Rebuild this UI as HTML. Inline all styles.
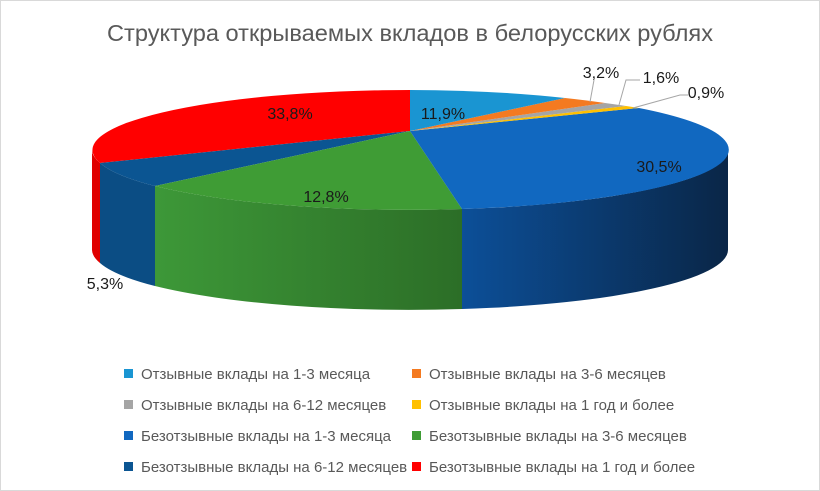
<!DOCTYPE html>
<html><head><meta charset="utf-8"><style>
body{margin:0;background:#fff}
svg{display:block;font-family:"Liberation Sans",sans-serif}
</style></head><body>
<svg width="820" height="491" viewBox="0 0 820 491" xmlns="http://www.w3.org/2000/svg">
<defs>
<linearGradient id="gb" x1="0" x2="1"><stop offset="0" stop-color="#0c4f98"/><stop offset="1" stop-color="#0a2647"/></linearGradient>
<linearGradient id="gg" x1="0" x2="1"><stop offset="0" stop-color="#3d9838"/><stop offset="1" stop-color="#2c6e27"/></linearGradient>
</defs>
<rect x="0.5" y="0.5" width="819" height="490" fill="#fff" stroke="#d9d9d9"/>
<text x="410" y="41" font-size="23" fill="#595959" text-anchor="middle" textLength="606" lengthAdjust="spacingAndGlyphs">Структура открываемых вкладов в белорусских рублях</text>
<path d="M92,150 A318,60 0 0 0 100,163 L100,263 A318,60 0 0 1 92,250 Z" fill="#e00000"/>
<path d="M100,163 A318,60 0 0 0 155,186 L155,286 A318,60 0 0 1 100,263 Z" fill="#0b4d84"/>
<path d="M155,186 A318,60 0 0 0 462,209 L462,309 A318,60 0 0 1 155,286 Z" fill="url(#gg)"/>
<path d="M462,209 A318,60 0 0 0 728,150 L728,250 A318,60 0 0 1 462,309 Z" fill="url(#gb)"/>
<path d="M410,131 L410,90 A318,60 0 0 0 100,163 Z" fill="#ff0000"/>
<path d="M410,131 L100,163 A318,60 0 0 0 155,186 Z" fill="#0b5592"/>
<path d="M410,131 L155,186 A318,60 0 0 0 462,209 Z" fill="#3f9c35"/>
<path d="M410,131 L462,209 A318,60 0 0 0 639,108 Z" fill="#1168c0"/>
<path d="M410,131 L639,108 A318,60 0 0 0 626,106 Z" fill="#ffc000"/>
<path d="M410,131 L626,106 A318,60 0 0 0 605,103 Z" fill="#a5a5a5"/>
<path d="M410,131 L605,103 A318,60 0 0 0 565,98 Z" fill="#f47a20"/>
<path d="M410,131 L565,98 A318,60 0 0 0 410,90 Z" fill="#1a95d2"/>
<g stroke="#a6a6a6" fill="none" stroke-width="1">
<path d="M590,102 L594,80"/>
<path d="M619,105 L626,80 L640,80"/>
<path d="M633,108 L680,95 L688,95"/>
</g>
<g font-size="16" fill="#1a1a1a">
<text x="290" y="119" text-anchor="middle">33,8%</text>
<text x="443" y="119" text-anchor="middle">11,9%</text>
<text x="601" y="78" text-anchor="middle">3,2%</text>
<text x="661" y="83" text-anchor="middle">1,6%</text>
<text x="706" y="98" text-anchor="middle">0,9%</text>
<text x="659" y="172" text-anchor="middle">30,5%</text>
<text x="326" y="202" text-anchor="middle">12,8%</text>
<text x="105" y="289" text-anchor="middle">5,3%</text>
</g>
<g font-size="15" fill="#595959">
<rect x="124" y="369" width="9" height="9" fill="#1a95d2"/><text x="141" y="379">Отзывные вклады на 1-3 месяца</text>
<rect x="412" y="369" width="9" height="9" fill="#f47a20"/><text x="429" y="379">Отзывные вклады на 3-6 месяцев</text>
<rect x="124" y="400" width="9" height="9" fill="#a5a5a5"/><text x="141" y="410">Отзывные вклады на 6-12 месяцев</text>
<rect x="412" y="400" width="9" height="9" fill="#ffc000"/><text x="429" y="410">Отзывные вклады на 1 год и более</text>
<rect x="124" y="431" width="9" height="9" fill="#1168c0"/><text x="141" y="441">Безотзывные вклады на 1-3 месяца</text>
<rect x="412" y="431" width="9" height="9" fill="#3f9c35"/><text x="429" y="441">Безотзывные вклады на 3-6 месяцев</text>
<rect x="124" y="462" width="9" height="9" fill="#0b5592"/><text x="141" y="472">Безотзывные вклады на 6-12 месяцев</text>
<rect x="412" y="462" width="9" height="9" fill="#ff0000"/><text x="429" y="472">Безотзывные вклады на 1 год и более</text>
</g>
</svg>
</body></html>
